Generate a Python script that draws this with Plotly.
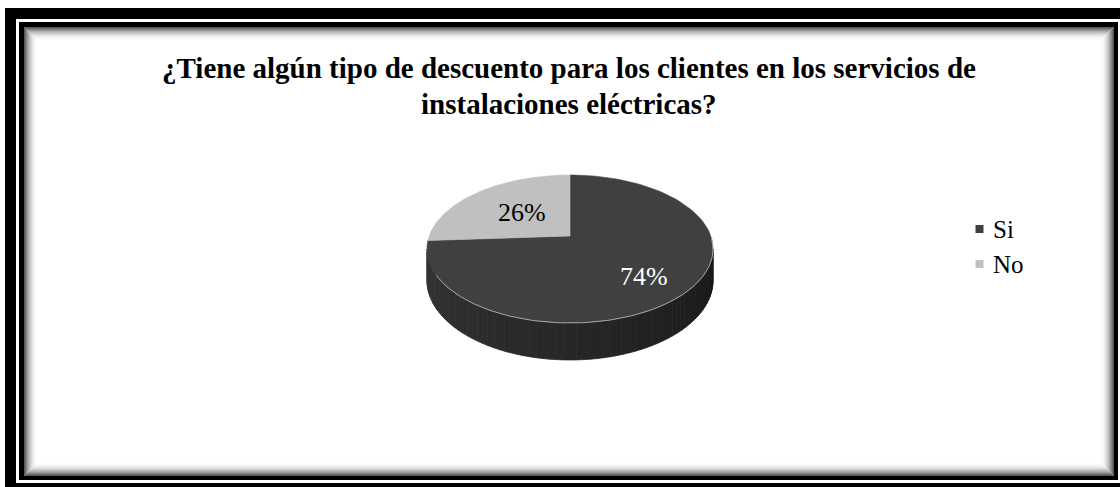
import math
import plotly.graph_objects as go

# Survey answers
categories = ["Si", "No"]
values = [74, 26]
slice_colors = ["#404040", "#c0c0c0"]
label_colors = ["white", "black"]
title_lines = [
    "¿Tiene algún tipo de descuento para los clientes en los servicios de",
    "instalaciones eléctricas?",
]

W, H = 1120, 487
SERIF = "Liberation Serif"

# 3D pie projection (unit disk seen from above with a tilt and perspective)
CX, CY = 570.0, 236.0      # projected centre of the top face
KX, KY = 140.8, 71.7       # horizontal / vertical scale
PERS = 0.1757              # perspective strength
DEPTH = 30.5               # thickness of the pie


def project(phi_deg, r=1.0, drop=0.0):
    """phi measured clockwise from the far (12 o'clock) direction."""
    p = math.radians(phi_deg)
    u, w = r * math.sin(p), r * math.cos(p)
    d = 1 + PERS * w
    return CX + KX * u / d, CY - KY * w / d + drop / d


def arc(a0, a1, r=1.0, drop=0.0, n=120):
    pts = [project(a0 + (a1 - a0) * i / n, r, drop) for i in range(n + 1)]
    return [p[0] for p in pts], [p[1] for p in pts]


fig = go.Figure()

# ---- side wall (front half, shaded in vertical strips) ----
total = sum(values)
vis0 = math.degrees(math.acos(-PERS))   # right silhouette
vis1 = 360 - vis0                        # left silhouette
nstrip = 70
for i in range(nstrip):
    a0 = vis0 + (vis1 - vis0) * i / nstrip
    a1 = vis0 + (vis1 - vis0) * (i + 1) / nstrip
    tx, ty = arc(a0, a1, n=4)
    bx, by = arc(a1, a0, drop=DEPTH, n=4)
    t = (i + 0.5) / nstrip            # 0 = right, 1 = left
    g = int(22 + 30 * t ** 0.8)
    col = f"rgb({g},{g},{g})"
    fig.add_trace(go.Scatter(
        x=tx + bx + [tx[0]], y=ty + by + [ty[0]],
        mode="lines", fill="toself", fillcolor=col,
        line=dict(color=col, width=0.8),
        hoverinfo="skip", showlegend=False))

# ---- top faces of the slices ----
start = 0.0
mids = []
for cat, val, col in zip(categories, values, slice_colors):
    sweep = 360.0 * val / total
    ax, ay = arc(start, start + sweep)
    fig.add_trace(go.Scatter(
        x=[CX] + ax + [CX], y=[CY] + ay + [CY],
        mode="lines", fill="toself", fillcolor=col,
        line=dict(color=col, width=0.6),
        name=cat, hoverinfo="skip", showlegend=False))
    mids.append(start + sweep / 2)
    start += sweep

# light rim along the front edge of the top face
rx, ry = arc(vis0 - 8, vis1 - 20)
fig.add_trace(go.Scatter(x=rx, y=ry, mode="lines",
                         line=dict(color="rgba(200,200,200,0.75)", width=1),
                         hoverinfo="skip", showlegend=False))

# ---- data labels ----
label_radius = [0.66, 0.5]
label_shift = [-5, 0]
annotations = []
for val, mid, lc, lr, ls in zip(values, mids, label_colors, label_radius, label_shift):
    lx, ly = project(mid, lr)
    annotations.append(dict(
        x=lx, y=ly, xref="x", yref="y", text=f"{val}%", showarrow=False,
        yshift=ls, font=dict(family=SERIF, size=26, color=lc)))

# ---- title ----
title_pos = [(569, 68), (569, 104)]
for line, (tx_, ty_) in zip(title_lines, title_pos):
    annotations.append(dict(
        x=tx_, y=ty_, xref="x", yref="y", text=f"<b>{line}</b>", showarrow=False,
        font=dict(family=SERIF, size=29, color="black")))

# ---- legend ----
shapes = []
leg_y = [229, 264]
for cat, col, yy in zip(categories, slice_colors, leg_y):
    shapes.append(dict(type="rect", xref="x", yref="y", x0=975.5, x1=983.5,
                       y0=yy - 4, y1=yy + 4, fillcolor=col, line=dict(width=0)))
    annotations.append(dict(x=991, y=yy, xref="x", yref="y", text=cat,
                            showarrow=False, xanchor="left",
                            font=dict(family=SERIF, size=25, color="black")))

# ---- double black frame with inner shadow ----
frame = [
    ((5, 8), (W + 10, H + 10), "black"),
    ((16, 19), (1121, 483), "white"),
    ((19, 22), (1118, 480), "black"),
    ((24, 27), (1114, 476), "white"),
]
frame_shapes = []
for (x0, y0), (x1, y1), c in frame:
    frame_shapes.append(dict(type="rect", xref="x", yref="y", x0=x0, y0=y0,
                             x1=x1, y1=y1, fillcolor=c, line=dict(width=0),
                             layer="below"))
nshade = 13
for i in range(nshade):
    f = (1 - i / nshade) ** 2
    g = int(255 - 170 * f)
    frame_shapes.append(dict(
        type="rect", xref="x", yref="y",
        x0=24.5 + i, y0=27.5 + i, x1=1113.5 - i, y1=475.5 - i,
        line=dict(color=f"rgb({g},{g},{g})", width=1),
        fillcolor="rgba(0,0,0,0)", layer="below"))

fig.update_layout(
    width=W, height=H,
    margin=dict(l=0, r=0, t=0, b=0),
    paper_bgcolor="white", plot_bgcolor="white",
    xaxis=dict(range=[0, W], visible=False, fixedrange=True),
    yaxis=dict(range=[H, 0], visible=False, fixedrange=True),
    shapes=frame_shapes + shapes,
    annotations=annotations,
    showlegend=False,
)

fig.write_html("out.html")
